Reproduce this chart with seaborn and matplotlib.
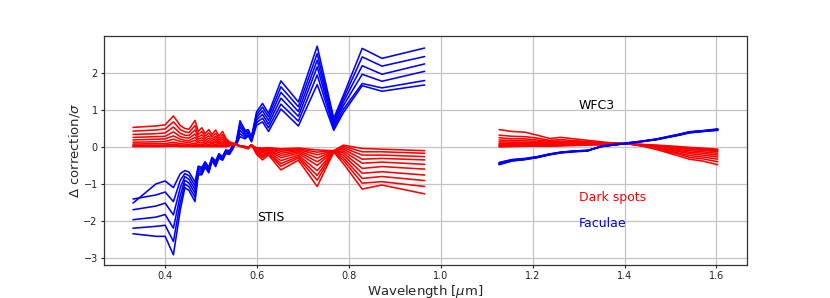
import matplotlib
matplotlib.use("Agg")
import matplotlib.pyplot as plt
import seaborn as sns
import pandas as pd

# ---------------- data ----------------
wl_stis = [0.330, 0.380, 0.400, 0.418, 0.433, 0.443, 0.452, 0.465, 0.472, 0.480,
           0.487, 0.495, 0.502, 0.510, 0.517, 0.525, 0.532, 0.540, 0.547, 0.555,
           0.563, 0.574, 0.581, 0.588, 0.599, 0.612, 0.625, 0.652, 0.690, 0.731,
           0.767, 0.788, 0.829, 0.872, 0.965]

# faculae (blue), STIS
fac_stis_0 = [-1.52, -1.00, -0.92, -1.10, -0.72, -0.64, -0.68, -0.95, -0.52, -0.55, -0.40, -0.55, -0.28, -0.38, -0.18, -0.26, -0.08, -0.10, 0.04, 0.06, 0.28, 0.22, 0.30, 0.14, 0.59, 0.68, 0.42, 1.03, 0.57, 1.69, 0.45, 0.93, 1.66, 1.51, 1.68]
fac_stis_1 = [-1.41, -1.30, -1.22, -1.48, -0.90, -0.72, -0.78, -1.05, -0.56, -0.59, -0.43, -0.58, -0.30, -0.41, -0.20, -0.28, -0.10, -0.12, 0.02, 0.08, 0.36, 0.26, 0.33, 0.16, 0.66, 0.78, 0.52, 1.16, 0.70, 1.95, 0.52, 1.02, 1.72, 1.60, 1.80]
fac_stis_2 = [-1.70, -1.60, -1.52, -1.84, -1.10, -0.80, -0.88, -1.15, -0.61, -0.63, -0.46, -0.61, -0.32, -0.44, -0.22, -0.30, -0.12, -0.14, 0.00, 0.10, 0.45, 0.31, 0.37, 0.18, 0.73, 0.88, 0.62, 1.32, 0.83, 2.17, 0.58, 1.12, 1.97, 1.78, 2.05]
fac_stis_3 = [-1.97, -1.90, -1.83, -2.20, -1.30, -0.90, -0.98, -1.25, -0.66, -0.67, -0.49, -0.64, -0.34, -0.47, -0.24, -0.32, -0.14, -0.16, -0.02, 0.12, 0.54, 0.36, 0.40, 0.22, 0.80, 0.98, 0.72, 1.48, 0.96, 2.35, 0.64, 1.22, 2.20, 1.97, 2.25]
fac_stis_4 = [-2.20, -2.15, -2.12, -2.56, -1.50, -1.00, -1.08, -1.36, -0.71, -0.71, -0.52, -0.67, -0.36, -0.50, -0.27, -0.34, -0.16, -0.18, -0.04, 0.14, 0.62, 0.41, 0.44, 0.25, 0.87, 1.08, 0.82, 1.63, 1.09, 2.53, 0.71, 1.31, 2.44, 2.19, 2.45]
fac_stis_5 = [-2.35, -2.42, -2.42, -2.92, -1.70, -1.10, -1.18, -1.48, -0.76, -0.75, -0.55, -0.70, -0.38, -0.53, -0.30, -0.36, -0.18, -0.20, -0.06, 0.16, 0.71, 0.45, 0.47, 0.28, 0.95, 1.18, 0.91, 1.79, 1.22, 2.73, 0.78, 1.40, 2.67, 2.40, 2.68]

# dark spots (red), STIS
spot_stis_0 = [0.01, 0.01, 0.01, 0.02, 0.01, 0.01, 0.01, 0.01, 0.01, 0.01, 0.01, 0.01, 0.01, 0.01, 0.01, 0.01, 0.01, 0.03, 0.06, 0.05, 0.03, 0.01, 0.00, 0.04, -0.02, -0.03, -0.02, -0.05, -0.03, -0.08, -0.10, 0.05, -0.04, -0.06, -0.10]
spot_stis_1 = [0.03, 0.03, 0.04, 0.05, 0.03, 0.03, 0.03, 0.04, 0.03, 0.03, 0.02, 0.03, 0.02, 0.03, 0.02, 0.03, 0.01, 0.04, 0.07, 0.05, 0.03, 0.01, 0.00, 0.04, -0.03, -0.05, -0.03, -0.08, -0.05, -0.14, -0.10, 0.02, -0.13, -0.13, -0.17]
spot_stis_2 = [0.05, 0.05, 0.05, 0.08, 0.05, 0.05, 0.04, 0.06, 0.04, 0.05, 0.03, 0.04, 0.03, 0.04, 0.03, 0.04, 0.02, 0.05, 0.07, 0.05, 0.03, 0.01, -0.01, 0.05, -0.04, -0.07, -0.04, -0.12, -0.07, -0.21, -0.11, -0.02, -0.22, -0.22, -0.26]
spot_stis_3 = [0.08, 0.09, 0.09, 0.13, 0.09, 0.08, 0.07, 0.11, 0.06, 0.08, 0.05, 0.07, 0.05, 0.07, 0.05, 0.06, 0.04, 0.06, 0.08, 0.06, 0.03, 0.01, -0.01, 0.05, -0.06, -0.10, -0.06, -0.17, -0.10, -0.30, -0.11, -0.06, -0.33, -0.31, -0.35]
spot_stis_4 = [0.13, 0.14, 0.15, 0.21, 0.15, 0.13, 0.12, 0.18, 0.11, 0.13, 0.09, 0.12, 0.09, 0.12, 0.08, 0.11, 0.06, 0.07, 0.08, 0.06, 0.03, 0.00, -0.02, 0.05, -0.07, -0.13, -0.08, -0.23, -0.13, -0.40, -0.12, -0.11, -0.44, -0.41, -0.47]
spot_stis_5 = [0.19, 0.21, 0.22, 0.30, 0.21, 0.18, 0.17, 0.26, 0.15, 0.19, 0.13, 0.17, 0.12, 0.17, 0.11, 0.15, 0.09, 0.08, 0.09, 0.06, 0.03, 0.00, -0.02, 0.05, -0.09, -0.16, -0.10, -0.29, -0.17, -0.50, -0.12, -0.16, -0.58, -0.53, -0.60]
spot_stis_6 = [0.26, 0.28, 0.29, 0.41, 0.28, 0.25, 0.24, 0.35, 0.21, 0.25, 0.18, 0.23, 0.17, 0.23, 0.15, 0.21, 0.12, 0.09, 0.09, 0.07, 0.02, -0.01, -0.03, 0.06, -0.12, -0.21, -0.13, -0.37, -0.22, -0.64, -0.13, -0.22, -0.71, -0.67, -0.76]
spot_stis_7 = [0.34, 0.36, 0.38, 0.54, 0.37, 0.32, 0.31, 0.46, 0.27, 0.33, 0.23, 0.30, 0.22, 0.29, 0.19, 0.27, 0.15, 0.10, 0.10, 0.07, 0.02, -0.01, -0.03, 0.06, -0.14, -0.25, -0.16, -0.45, -0.26, -0.77, -0.13, -0.29, -0.85, -0.80, -0.91]
spot_stis_8 = [0.43, 0.46, 0.49, 0.68, 0.47, 0.41, 0.39, 0.58, 0.34, 0.42, 0.29, 0.38, 0.28, 0.37, 0.24, 0.34, 0.19, 0.12, 0.10, 0.07, 0.02, -0.02, -0.04, 0.06, -0.17, -0.29, -0.18, -0.52, -0.30, -0.90, -0.14, -0.36, -0.98, -0.94, -1.07]
spot_stis_9 = [0.53, 0.57, 0.60, 0.84, 0.58, 0.50, 0.48, 0.72, 0.42, 0.52, 0.36, 0.47, 0.34, 0.46, 0.30, 0.42, 0.24, 0.14, 0.11, 0.08, 0.02, -0.02, -0.05, 0.06, -0.20, -0.35, -0.22, -0.62, -0.36, -1.07, -0.14, -0.45, -1.14, -1.03, -1.27]

wl_wfc3 = [1.127, 1.155, 1.183, 1.210, 1.237, 1.262, 1.290, 1.320, 1.350, 1.380,
           1.410, 1.440, 1.470, 1.498, 1.520, 1.541, 1.570, 1.603]

fac_wfc3_0 = [-0.42, -0.34, -0.31, -0.26, -0.19, -0.14, -0.11, -0.09, 0.01, 0.06, 0.10, 0.15, 0.20, 0.27, 0.32, 0.38, 0.42, 0.45]
fac_wfc3_1 = [-0.43, -0.35, -0.32, -0.27, -0.19, -0.14, -0.11, -0.09, 0.01, 0.06, 0.10, 0.15, 0.20, 0.27, 0.33, 0.39, 0.42, 0.46]
fac_wfc3_2 = [-0.45, -0.36, -0.33, -0.27, -0.20, -0.15, -0.12, -0.10, 0.02, 0.06, 0.11, 0.15, 0.21, 0.28, 0.33, 0.40, 0.43, 0.47]
fac_wfc3_3 = [-0.46, -0.37, -0.33, -0.28, -0.20, -0.15, -0.12, -0.10, 0.02, 0.06, 0.11, 0.16, 0.21, 0.28, 0.34, 0.40, 0.43, 0.47]
fac_wfc3_4 = [-0.47, -0.37, -0.34, -0.28, -0.21, -0.15, -0.12, -0.10, 0.02, 0.07, 0.11, 0.16, 0.21, 0.29, 0.34, 0.41, 0.44, 0.48]
fac_wfc3_5 = [-0.48, -0.38, -0.34, -0.29, -0.21, -0.16, -0.13, -0.11, 0.03, 0.07, 0.12, 0.16, 0.22, 0.29, 0.35, 0.41, 0.44, 0.49]

spot_wfc3_0 = [0.00, 0.01, 0.02, 0.02, 0.02, 0.03, 0.04, 0.05, 0.06, 0.07, 0.08, 0.07, 0.05, 0.03, 0.01, -0.01, -0.03, -0.06]
spot_wfc3_1 = [0.02, 0.03, 0.03, 0.03, 0.03, 0.04, 0.05, 0.06, 0.07, 0.08, 0.08, 0.06, 0.04, 0.01, -0.01, -0.03, -0.05, -0.08]
spot_wfc3_2 = [0.04, 0.05, 0.05, 0.05, 0.04, 0.05, 0.06, 0.07, 0.08, 0.08, 0.08, 0.06, 0.03, 0.00, -0.02, -0.05, -0.07, -0.10]
spot_wfc3_3 = [0.07, 0.07, 0.07, 0.07, 0.06, 0.07, 0.07, 0.08, 0.08, 0.09, 0.09, 0.05, 0.02, -0.02, -0.04, -0.07, -0.09, -0.13]
spot_wfc3_4 = [0.10, 0.10, 0.10, 0.09, 0.08, 0.09, 0.09, 0.09, 0.09, 0.09, 0.09, 0.05, 0.01, -0.04, -0.07, -0.10, -0.13, -0.17]
spot_wfc3_5 = [0.14, 0.13, 0.13, 0.12, 0.10, 0.11, 0.11, 0.10, 0.10, 0.10, 0.09, 0.04, 0.00, -0.06, -0.10, -0.14, -0.17, -0.22]
spot_wfc3_6 = [0.19, 0.17, 0.17, 0.15, 0.12, 0.13, 0.12, 0.11, 0.10, 0.10, 0.09, 0.04, -0.02, -0.08, -0.13, -0.18, -0.22, -0.27]
spot_wfc3_7 = [0.25, 0.22, 0.22, 0.19, 0.15, 0.16, 0.14, 0.13, 0.11, 0.10, 0.08, 0.03, -0.03, -0.11, -0.17, -0.23, -0.27, -0.33]
spot_wfc3_8 = [0.32, 0.29, 0.28, 0.24, 0.18, 0.20, 0.17, 0.15, 0.12, 0.10, 0.08, 0.03, -0.05, -0.14, -0.20, -0.28, -0.32, -0.40]
spot_wfc3_9 = [0.47, 0.42, 0.40, 0.32, 0.23, 0.26, 0.22, 0.18, 0.14, 0.10, 0.08, 0.02, -0.07, -0.17, -0.25, -0.33, -0.38, -0.48]

fac_stis = [fac_stis_0, fac_stis_1, fac_stis_2, fac_stis_3, fac_stis_4, fac_stis_5]
spot_stis = [spot_stis_0, spot_stis_1, spot_stis_2, spot_stis_3, spot_stis_4,
             spot_stis_5, spot_stis_6, spot_stis_7, spot_stis_8, spot_stis_9]
fac_wfc3 = [fac_wfc3_0, fac_wfc3_1, fac_wfc3_2, fac_wfc3_3, fac_wfc3_4, fac_wfc3_5]
spot_wfc3 = [spot_wfc3_0, spot_wfc3_1, spot_wfc3_2, spot_wfc3_3, spot_wfc3_4,
             spot_wfc3_5, spot_wfc3_6, spot_wfc3_7, spot_wfc3_8, spot_wfc3_9]


def long_frame(wl, series, tag):
    rows = []
    for k, vals in enumerate(series):
        for w, v in zip(wl, vals):
            rows.append({"wl": w, "val": v, "line": f"{tag}{k}"})
    return pd.DataFrame(rows)


# ---------------- style ----------------
sns.set_style("ticks", {"axes.grid": True, "grid.color": "#c4c4c4",
                        "axes.edgecolor": "#333333"})
plt.rcParams["font.family"] = ["DejaVu Sans"]
plt.rcParams["grid.linewidth"] = 0.9

fig, ax = plt.subplots(figsize=(8.30, 2.98), dpi=100)
fig.subplots_adjust(left=0.125, right=0.9, bottom=0.11, top=0.88)

lw = 1.15
sns.lineplot(data=long_frame(wl_stis, fac_stis, "fs"), x="wl", y="val",
             units="line", estimator=None, sort=False, color="#0000ff", lw=lw, ax=ax)
sns.lineplot(data=long_frame(wl_stis, spot_stis, "ss"), x="wl", y="val",
             units="line", estimator=None, sort=False, color="#ff0000", lw=lw, ax=ax)
sns.lineplot(data=long_frame(wl_wfc3, spot_wfc3, "sw"), x="wl", y="val",
             units="line", estimator=None, sort=False, color="#ff0000", lw=lw, ax=ax)
sns.lineplot(data=long_frame(wl_wfc3, fac_wfc3, "fw"), x="wl", y="val",
             units="line", estimator=None, sort=False, color="#0000ff", lw=lw, ax=ax)

ax.set_xticks([0.4, 0.6, 0.8, 1.0, 1.2, 1.4, 1.6])
ax.set_yticks([-3, -2, -1, 0, 1, 2])
ax.tick_params(labelsize=7, length=2.5, width=0.8, pad=1.8, colors="#222222")
ax.set_xlabel(r"Wavelength [$\mu$m]", fontsize=9.5, labelpad=1)
ax.set_ylabel(r"$\Delta$ correction/$\sigma$", fontsize=9.5, labelpad=1)
for s in ax.spines.values():
    s.set_linewidth(0.9)

ax.text(0.60, -1.90, "STIS", fontsize=9, color="black", va="center", ha="left")
ax.text(1.30, 1.13, "WFC3", fontsize=9, color="black", va="center", ha="left")
ax.text(1.30, -1.38, "Dark spots", fontsize=9, color="#ff0000", va="center", ha="left")
ax.text(1.30, -2.08, "Faculae", fontsize=9, color="#0000ff", va="center", ha="left")

fig.savefig("out.png", dpi=100)
